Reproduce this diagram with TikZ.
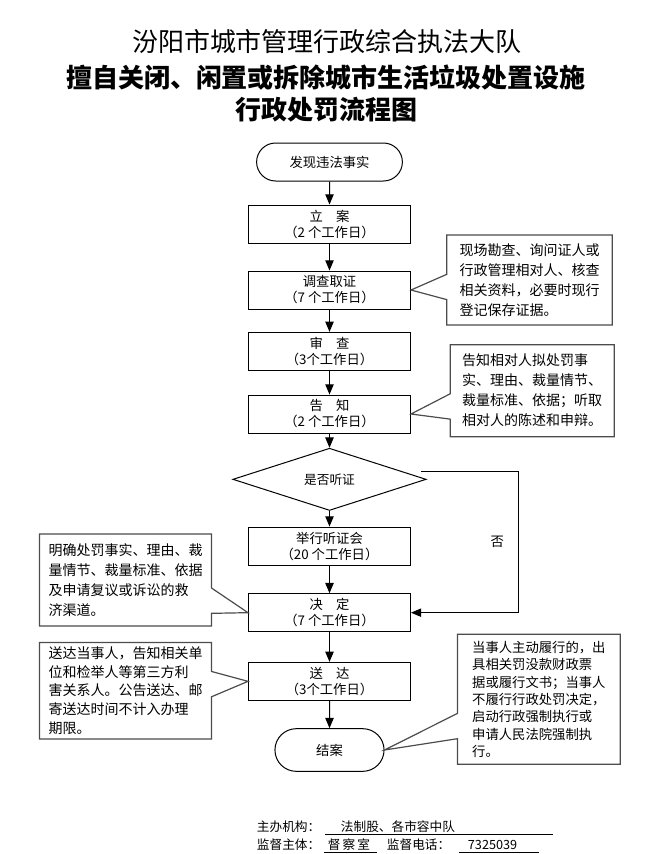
\documentclass[tikz,border=0pt]{standalone}
\usepackage{fontspec}
\setmainfont{Noto Sans CJK SC}
\usetikzlibrary{arrows,shapes.geometric,shapes.misc,shapes.callouts}

\begin{document}
\begin{tikzpicture}[x=0.75pt,y=-0.75pt,line width=0.75pt,
        box/.style={draw, rectangle, minimum width=121.5pt, minimum height=28.5pt, inner sep=1pt, align=center, font=\fontsize{10}{12}\selectfont},
        term/.style={draw, rounded rectangle, minimum width=116pt, minimum height=28.5pt, font=\fontsize{10}{12}\selectfont},
        dec/.style={draw, diamond, minimum width=145pt, minimum height=33pt, inner sep=0pt, font=\fontsize{9.5}{12}\selectfont},
        note/.style={draw=black!70, line width=0.9pt, rectangle callout, callout pointer width=19pt, align=left, font=\fontsize{10.5}{15}\selectfont},
        arr/.style={-triangle 45}]
        \useasboundingbox (0,0) rectangle (655,854);

        \node[font=\fontsize{19.5}{22}\selectfont](T1) at (327,42){汾阳市城市管理行政综合执法大队};
        \node[font=\bfseries\fontsize{19.5}{22}\selectfont](T2) at (326,78){擅自关闭、闲置或拆除城市生活垃圾处置设施};
        \node[font=\bfseries\fontsize{19.5}{22}\selectfont](T3) at (326,110){行政处罚流程图};

        \node[term](FX) at (329.5,162){发现违法事实};
        \node[box, below of=FX, node distance=46.5pt](LA){立\hspace{1em}案\\（2 个工作日）};
        \node[box, below of=LA, node distance=49.5pt](DC){调查取证\\（7 个工作日）};
        \node[box, below of=DC, node distance=46pt](SC){审\hspace{1em}查\\（3个工作日）};
        \node[box, below of=SC, node distance=47pt](GZ){告\hspace{1em}知\\（2 个工作日）};
        \node[dec, below of=GZ, node distance=49pt](TZ){是否听证};
        \node[box, below of=TZ, node distance=50pt](JX){举行听证会\\（20 个工作日）};
        \node[box, below of=JX, node distance=50pt](JD){决\hspace{1em}定\\（7 个工作日）};
        \node[box, below of=JD, node distance=51.5pt](SD){送\hspace{1em}达\\（3个工作日）};
        \node[term, minimum width=88.5pt, minimum height=32pt, below of=SD, node distance=51.5pt](JA){结案};

        \draw[arr] (FX) -- (LA);
        \draw[arr] (LA) -- (DC);
        \draw[arr] (DC) -- (SC);
        \draw[arr] (SC) -- (GZ);
        \draw[arr] (GZ) -- (TZ);
        \draw[arr] (TZ) -- (JX);
        \draw[arr] (JX) -- (JD);
        \draw[arr] (JD) -- (SD);
        \draw[arr] (SD) -- (JA);

        \draw[arr] ([xshift=-4pt,yshift=6pt]TZ.east) -- ++(97,0) |- node[pos=0.25, left=7pt]{否} (JD.east);

        \node[note, right of=DC, node distance=150pt, yshift=7.5pt, minimum width=124pt, minimum height=67.5pt, callout absolute pointer={(DC.east)}](N1){现场勘查、询问证人或\\行政管理相对人、核查\\相关资料，必要时现行\\登记保存证据。};
        \node[note, right of=GZ, node distance=152pt, yshift=17.5pt, minimum width=123pt, minimum height=69pt, callout absolute pointer={(GZ.east)}](N2){告知相对人拟处罚事\\实、理由、裁量情节、\\裁量标准、依据；听取\\相对人的陈述和申辩。};
        \node[note, left of=JD, node distance=153pt, yshift=24.5pt, minimum width=129pt, minimum height=69pt, callout absolute pointer={(JD.west)}](N3){明确处罚事实、理由、裁\\量情节、裁量标准、依据\\及申请复议或诉讼的救\\济渠道。};
        \node[note, left of=SD, node distance=153pt, yshift=-7pt, minimum width=129pt, minimum height=70pt, font=\fontsize{10.5}{14}\selectfont, callout absolute pointer={(SD.west)}](N4){送达当事人，告知相关单\\位和检举人等第三方利\\害关系人。公告送达、邮\\寄送达时间不计入办理\\期限。};
        \node[note, right of=JA, node distance=157pt, yshift=38pt, minimum width=122pt, minimum height=97.5pt, font=\fontsize{10}{13}\selectfont, callout absolute pointer={(JA.east)}](N5){当事人主动履行的，出\\具相关罚没款财政票\\据或履行文书；当事人\\不履行行政处罚决定，\\启动行政强制执行或\\申请人民法院强制执\\行。};

        \node[anchor=west, font=\fontsize{9.5}{11}\selectfont](ZB) at (252,827){主办机构：};
        \node[anchor=west, font=\fontsize{9.5}{11}\selectfont](ZBT) at (336,827){法制股、各市容中队};
        \draw (325,834) -- (553,834);
        \node[anchor=west, font=\fontsize{9.5}{11}\selectfont](JDZ) at (252,845){监督主体：};
        \node[font=\fontsize{9.5}{11}\selectfont](JDZT) at (349,845){督\,察\,室};
        \draw (324,852) -- (377,852);
        \node[anchor=west, font=\fontsize{9.5}{11}\selectfont](JDD) at (382,845){监督电话：};
        \node[anchor=west, font=\fontsize{9.5}{11}\selectfont](JDDT) at (463,845){7325039};
        \draw (459,852) -- (539,852);
\end{tikzpicture}
\end{document}
